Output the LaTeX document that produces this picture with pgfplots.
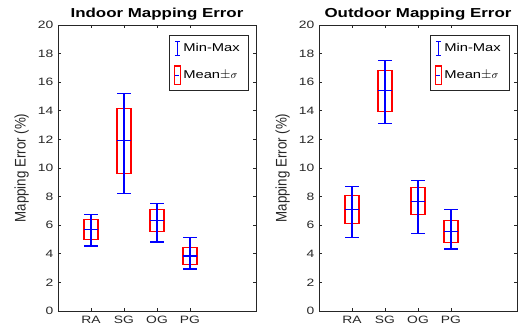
\documentclass[border=0pt]{standalone}
\usepackage{fontspec}
\setmainfont{Liberation Sans}[FakeStretch=1.3]
\newfontfamily\plainsans{Liberation Sans}
\usepackage{graphicx}
\usepackage{pgfplots}
\usepackage{pgfplotstable}
\usepgfplotslibrary{statistics}
\pgfplotsset{compat=1.18}

% x, mean, min, max
\pgfplotstableread{
x mean min max
1 5.72 4.54 6.74
2 11.90 8.21 15.20
3 6.35 4.82 7.51
4 3.84 2.93 5.15
}\indoor
\pgfplotstableread{
x mean min max
1 7.12 5.14 8.72
2 15.40 13.12 17.50
3 7.68 5.44 9.12
4 5.58 4.33 7.12
}\outdoor

\definecolor{axgray}{gray}{0.15}

\pgfplotsset{
  mystyle/.style={
    scale only axis,
    width=148.5pt, height=214.5pt,
    xmin=0, xmax=6, ymin=0, ymax=20,
    xtick={1,2,3,4}, xticklabels={RA,SG,OG,PG},
    ytick={0,2,...,20},
    tick align=inside,
    major tick length=2.5pt,
    axis line style={axgray, line width=0.5pt},
    every tick/.style={axgray, line width=0.5pt},
    tick label style={font=\fontsize{8}{9}\selectfont, text=axgray},
    /pgf/number format/assume math mode=true,
    ylabel={\scalebox{1}[1.15]{\plainsans\fontsize{10}{12}\selectfont Mapping Error (\%)}},
    ylabel style={text=axgray},
    title style={font=\fontsize{9.75}{11}\selectfont\bfseries, yshift=-6pt},
    legend style={at={(0.96,0.965)}, anchor=north east, draw=axgray, fill=white,
      font=\fontsize{8.5}{10}\selectfont, row sep=7pt, inner xsep=4pt, inner ysep=4pt,
      legend cell align=left},
    boxplot/draw direction=y,
  },
  boxred/.style={red, line width=0.9pt, forget plot,
    boxplot/box extend=0.42, boxplot/whisker extend=0},
}

\newcommand{\bluebars}[1]{%
  \addplot[blue, line width=0.9pt, only marks, mark=-, mark size=5.2pt,
    mark options={line width=0.9pt}, forget plot,
    error bars/.cd, y dir=both, y explicit, error mark=|,
    error mark options={blue, mark size=4.9pt, line width=0.9pt},
    error bar style={line width=0.9pt}]
    table[x=x, y=mean, y error plus expr=\thisrow{max}-\thisrow{mean},
      y error minus expr=\thisrow{mean}-\thisrow{min}] {#1};
  \addlegendimage{legend image code/.code={
    \draw[blue, line width=0.8pt] (0.3em,-5pt) -- (0.3em,5pt);
    \draw[blue, line width=0.8pt] (0.1em,-5pt) -- (0.5em,-5pt);
    \draw[blue, line width=0.8pt] (0.1em,5pt) -- (0.5em,5pt);}}
  \addlegendentry{Min-Max}
  \addlegendimage{legend image code/.code={
    \draw[red, line width=0.8pt] (0.1em,-7pt) rectangle (0.5em,7pt);
    \draw[blue, line width=0.8pt] (0.15em,0pt) -- (0.45em,0pt);}}
  \addlegendentry{Mean{\fontsize{10}{10}\selectfont$\pm$}$\sigma$}
}
% #1 position, #2 mean-sigma, #3 mean+sigma
\newcommand{\redbox}[3]{%
  \addplot[boxred, boxplot prepared={draw position=#1,
    lower whisker=#2, lower quartile=#2, median=#2,
    upper quartile=#3, upper whisker=#3}] coordinates {};
}

\begin{document}
\begin{tikzpicture}
\path[use as bounding box] (-43.5pt,-15pt) rectangle (348pt,233.25pt);
\begin{axis}[mystyle, at={(0,0)}, anchor=south west, title={Indoor Mapping Error}]
\redbox{1}{5.00}{6.40}
\redbox{2}{9.63}{14.17}
\redbox{3}{5.54}{7.10}
\redbox{4}{3.24}{4.42}
\bluebars{\indoor}
\end{axis}
\begin{axis}[mystyle, at={(195.75pt,0)}, anchor=south west, title={Outdoor Mapping Error}]
\redbox{1}{6.10}{8.10}
\redbox{2}{13.96}{16.82}
\redbox{3}{6.73}{8.63}
\redbox{4}{4.77}{6.35}
\bluebars{\outdoor}
\end{axis}
\end{tikzpicture}
\end{document}
